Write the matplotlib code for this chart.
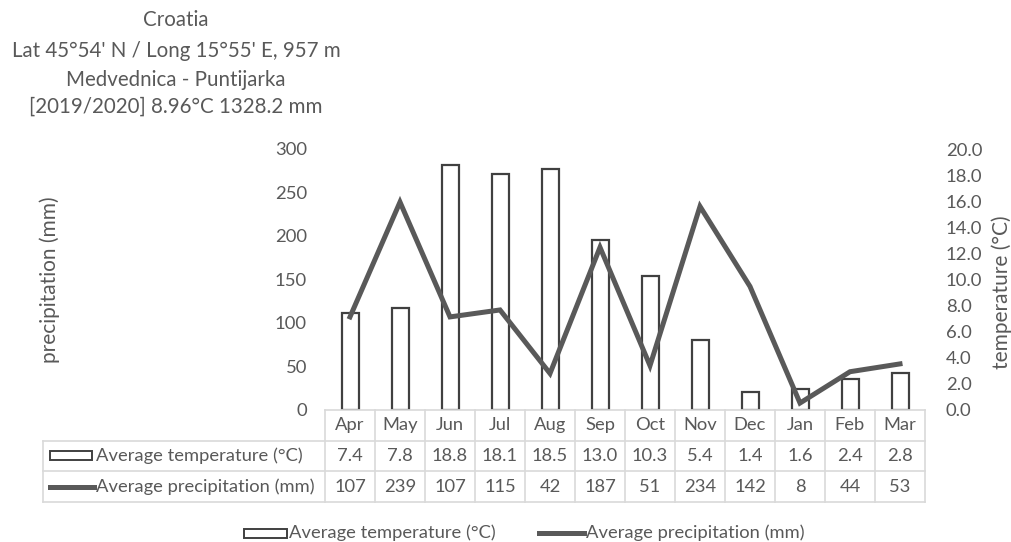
import matplotlib
matplotlib.use("Agg")
import matplotlib.pyplot as plt
import matplotlib.transforms as mtransforms
from matplotlib.patches import Rectangle
from matplotlib.lines import Line2D

months = ["Apr", "May", "Jun", "Jul", "Aug", "Sep", "Oct", "Nov", "Dec", "Jan", "Feb", "Mar"]
temperature = [7.4, 7.8, 18.8, 18.1, 18.5, 13.0, 10.3, 5.4, 1.4, 1.6, 2.4, 2.8]
precipitation = [107, 239, 107, 115, 42, 187, 51, 234, 142, 8, 44, 53]
temp_label = "Average temperature (°C)"
prec_label = "Average precipitation (mm)"
title_lines = ["Croatia", "Lat 45°54' N / Long 15°55' E, 957 m",
               "Medvednica - Puntijarka", "[2019/2020] 8.96°C 1328.2 mm"]

plt.rcParams['font.family'] = ['Lato', 'DejaVu Sans']
TXT = "#595959"
GRID = "#d9d9d9"
W, H = 1011, 542
FS_TICK = 13.3
FS_TAB = 13.2
FS_LAB = 15
FS_TITLE = 14.8

fig = plt.figure(figsize=(W / 100, H / 100), dpi=100)
L, R, B, T = 325, 925, 410, 149
ax_p = fig.add_axes([L / W, 1 - B / H, (R - L) / W, (B - T) / H])
ax_t = ax_p.twinx()
ax_p.set_zorder(ax_t.get_zorder() + 1)
ax_p.patch.set_visible(False)

x = list(range(len(months)))
ax_t.bar(x, temperature, width=0.34, facecolor="white", edgecolor="#404040", linewidth=1.6)
ax_p.plot(x, precipitation, color="#595959", linewidth=3.6, solid_joinstyle="miter")

ax_p.set_xlim(-0.5, len(months) - 0.5)
ax_p.set_ylim(0, 300)
ax_t.set_ylim(0, 20)
ax_p.set_yticks(range(0, 301, 50))
ax_t.set_yticks([i * 2 for i in range(11)])
ax_t.set_yticklabels([f"{i * 2:.1f}" for i in range(11)])
for a in (ax_p, ax_t):
    for s in a.spines.values():
        s.set_visible(False)
    a.tick_params(length=0, labelsize=FS_TICK, colors=TXT)
    a.set_xticks([])
ax_p.tick_params(axis='y', pad=13)
ax_t.tick_params(axis='y', pad=15)
ax_p.set_ylabel("precipitation (mm)", fontsize=FS_LAB, color=TXT)
ax_p.yaxis.label.set_va("center")
ax_p.yaxis.set_label_coords(-(L - 50) / (R - L), 0.5)
ax_t.set_ylabel("temperature (°C)", fontsize=FS_LAB, color=TXT, rotation=90)
ax_t.yaxis.label.set_va("center")
ax_t.yaxis.set_label_coords(1 + (1002 - R) / (R - L), 0.45)

# data table below the plot
trans = mtransforms.blended_transform_factory(ax_p.transData, ax_p.transAxes)
ph = B - T
def ya(py):
    return (B - py) / ph
rows = [410, 440.5, 471, 502]
left_x = -0.5 - (L - 43) / 50.0
n = len(months)
ax_p.add_line(Line2D([-0.5, n - 0.5], [ya(rows[0])] * 2, transform=trans, color=GRID, lw=1.2, clip_on=False))
for r in rows[1:]:
    ax_p.add_line(Line2D([left_x, n - 0.5], [ya(r)] * 2, transform=trans, color=GRID, lw=1.2, clip_on=False))
for i in range(n + 1):
    ax_p.add_line(Line2D([i - 0.5] * 2, [ya(rows[0]), ya(rows[3])], transform=trans, color=GRID, lw=1.2, clip_on=False))
ax_p.add_line(Line2D([left_x] * 2, [ya(rows[1]), ya(rows[3])], transform=trans, color=GRID, lw=1.2, clip_on=False))

for i, m in enumerate(months):
    ax_p.text(i, ya((rows[0] + rows[1]) / 2), m, transform=trans, ha="center", va="center", fontsize=FS_TAB, color=TXT)
    ax_p.text(i, ya((rows[1] + rows[2]) / 2), f"{temperature[i]:.1f}", transform=trans, ha="center", va="center", fontsize=FS_TAB, color=TXT)
    ax_p.text(i, ya((rows[2] + rows[3]) / 2), f"{precipitation[i]:d}", transform=trans, ha="center", va="center", fontsize=FS_TAB, color=TXT)

def fx(px):
    return px / W
def fy(py):
    return 1 - py / H

# legend keys inside the table
fig.patches.append(Rectangle((fx(50), fy(460)), (92 - 50) / W, 9 / H, transform=fig.transFigure,
                             facecolor="white", edgecolor="#404040", lw=1.4))
fig.text(fx(96), fy(456), temp_label, ha="left", va="center", fontsize=FS_TAB, color=TXT)
fig.lines.append(Line2D([fx(50), fx(94)], [fy(487)] * 2, transform=fig.transFigure, color="#595959", lw=3.6))
fig.text(fx(96), fy(487), prec_label, ha="left", va="center", fontsize=FS_TAB, color=TXT)

# bottom legend
fig.patches.append(Rectangle((fx(244), fy(538)), (287 - 244) / W, 9 / H, transform=fig.transFigure,
                             facecolor="white", edgecolor="#404040", lw=1.4))
fig.text(fx(289), fy(533), temp_label, ha="left", va="center", fontsize=FS_TAB, color=TXT)
fig.lines.append(Line2D([fx(539), fx(584)], [fy(533)] * 2, transform=fig.transFigure, color="#595959", lw=3.6))
fig.text(fx(586), fy(533), prec_label, ha="left", va="center", fontsize=FS_TAB, color=TXT)

# title
ys = [20, 51, 80, 107]
for t, yy in zip(title_lines, ys):
    fig.text(fx(176), fy(yy), t, ha="center", va="center", fontsize=FS_TITLE, color=TXT)

fig.savefig("out.png", dpi=100, facecolor="white")
